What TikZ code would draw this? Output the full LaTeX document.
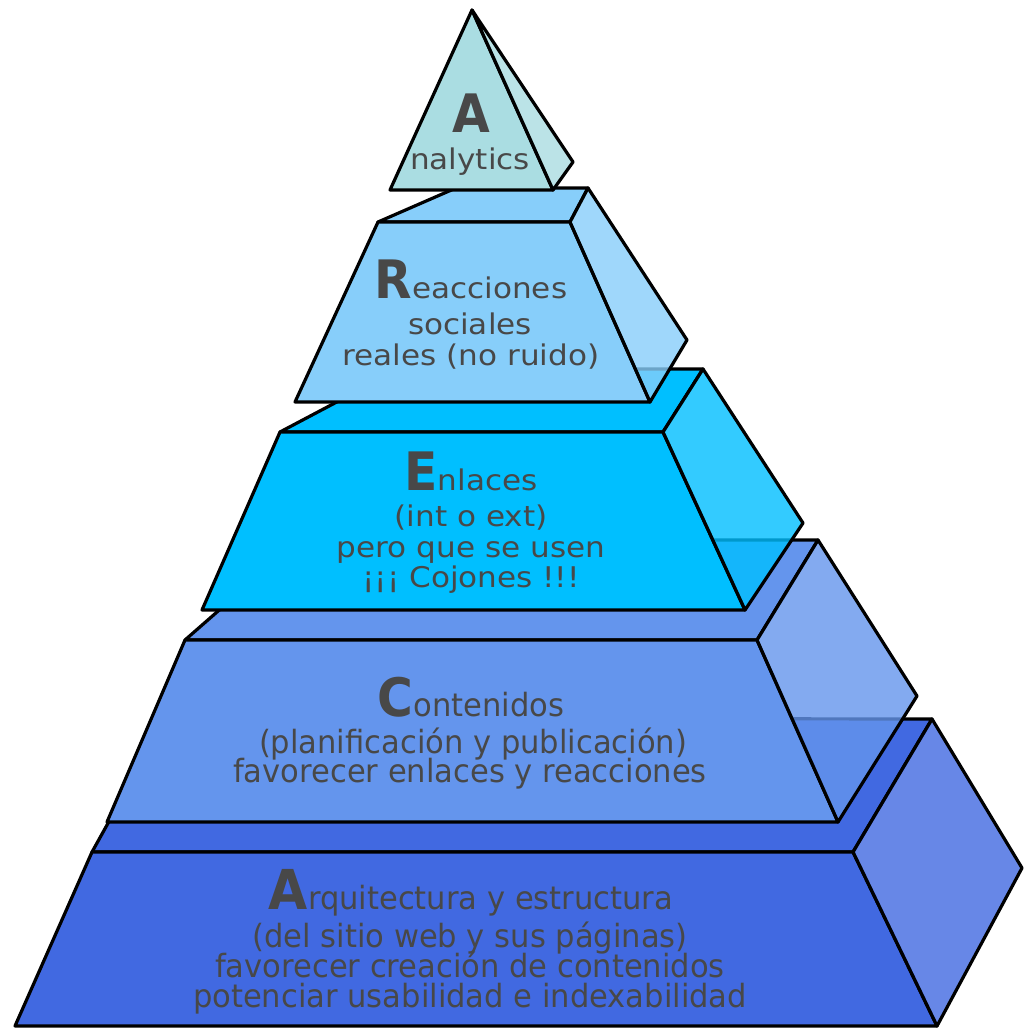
\documentclass[tikz,border=0pt]{standalone}
\usepackage{fontspec}
\setmainfont{DejaVu Sans}
\newfontfamily\fup[FakeStretch=1.09]{DejaVu Sans}
\newfontfamily\flow[FakeStretch=0.955]{DejaVu Sans}
\newfontfamily\fbig[FakeStretch=0.92]{DejaVu Sans}
\newcommand\upsz{\fup\fontsize{28.5}{34}\selectfont}
\newcommand\lowsz{\flow\fontsize{32}{37}\selectfont}
\newcommand\bigsz{\fbig\bfseries\fontsize{53}{60}\selectfont}
\definecolor{colT}{RGB}{170,221,226}
\definecolor{colR}{RGB}{135,206,250}
\definecolor{colE}{RGB}{0,191,255}
\definecolor{colC}{RGB}{100,149,237}
\definecolor{colA}{RGB}{65,105,225}
\definecolor{txtgray}{RGB}{72,72,72}
\begin{document}
\begin{tikzpicture}[x=1pt,y=-1pt,
  face/.style={draw=black, line width=3.2pt, line join=round},
  sideface/.style={face, fill opacity=0.8, draw opacity=1},
  txt/.style={inner sep=0pt, anchor=base, text=txtgray}]
\useasboundingbox (0,0) rectangle (1025,1030);
\fill[white] (0,0) rectangle (1025,1030);

% ---- level A (bottom) ----
\draw[face, fill=colA] (92,852) -- (112,816) -- (170,718) -- (932,719) -- (853,852) -- cycle;
\draw[face, fill=colA] (92,852) -- (853,852) -- (937,1026) -- (15,1026) -- cycle;
\draw[sideface, fill=colA] (853,852) -- (932,719) -- (1022,868) -- (937,1026) -- cycle;

% ---- level C ----
\draw[face, fill=colC] (185,640) -- (225,605) -- (260,540) -- (818,540) -- (757,640) -- cycle;
\draw[face, fill=colC] (185,640) -- (757,640) -- (838,822) -- (107,822) -- cycle;
\draw[sideface, fill=colC] (757,640) -- (818,540) -- (917,696) -- (838,822) -- cycle;

% ---- level E ----
\draw[face, fill=colE] (280,432) -- (350,395) -- (400,369) -- (703,369) -- (663,432) -- cycle;
\draw[face, fill=colE] (280,432) -- (663,432) -- (745,610) -- (202,610) -- cycle;
\draw[sideface, fill=colE] (663,432) -- (703,369) -- (803,523) -- (745,610) -- cycle;

% ---- level R ----
\draw[face, fill=colR] (378,222) -- (456,188) -- (588,188) -- (570,222) -- cycle;
\draw[face, fill=colR] (378,222) -- (570,222) -- (650,402) -- (295,402) -- cycle;
\draw[sideface, fill=colR] (570,222) -- (588,188) -- (687,340) -- (650,402) -- cycle;

% ---- top triangle ----
\draw[face, fill=colT] (472,10) -- (553,190) -- (390,190) -- cycle;
\draw[sideface, fill=colT] (472,10) -- (573,162) -- (553,190) -- cycle;

% ---- texts ----
\node[txt, font=\bigsz] (t1) at (471,132) {A};
\node[txt, font=\upsz] (t2) at (470,169) {nalytics};

\node[txt] (r1) at (471,298) {{\bigsz R}{\upsz eacciones}};
\node[txt, font=\upsz] (r2) at (470,334) {sociales};
\node[txt, font=\upsz] (r3) at (471,365) {reales (no ruido)};

\node[txt] (e1) at (471,490) {{\bigsz E}{\upsz nlaces}};
\node[txt, font=\upsz] (e2) at (471,526) {(int o ext)};
\node[txt, font=\upsz] (e3) at (471,557) {pero que se usen};
\node[txt, font=\upsz] (e4) at (471,587) {¡¡¡ Cojones !!!};

\node[txt] (c1) at (471,716) {{\bigsz C}{\lowsz ontenidos}};
\node[txt, font=\lowsz] (c2) at (473,753) {(planificación y publicación)};
\node[txt, font=\lowsz] (c3) at (470,782) {favorecer enlaces y reacciones};

\node[txt] (a1) at (471,909) {{\bigsz\fontsize{55}{60}\selectfont A}{\lowsz rquitectura y estructura}};
\node[txt, font=\lowsz] (a2) at (470,947) {(del sitio web y sus páginas)};
\node[txt, font=\lowsz] (a3) at (470,977) {favorecer creación de contenidos};
\node[txt, font=\lowsz] (a4) at (470,1007) {potenciar usabilidad e indexabilidad};
\end{tikzpicture}
\end{document}
